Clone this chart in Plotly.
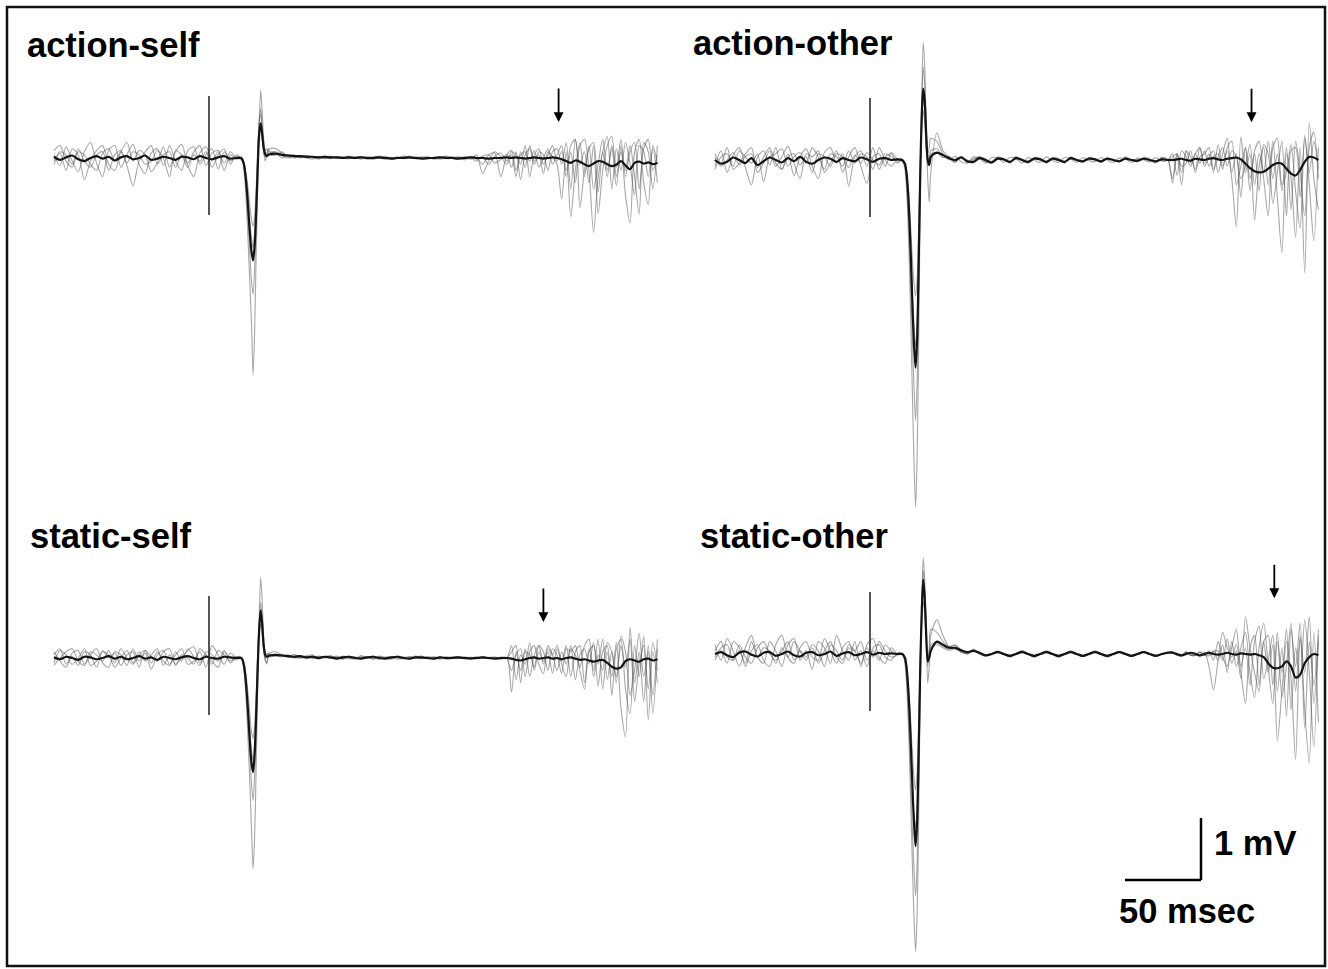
import plotly.graph_objects as go

W, H = 1328, 969

# ---------------- data (time in ms relative to stimulus, amplitude in mV) ----------------
TIME_MS = [
    -102, -98, -94, -90, -86, -82, -78, -74, -70, -66,
    -62, -58, -54, -50, -46, -42, -38, -34, -30, -26,
    -22, -18, -14, -10, -6, -2, 2, 6, 10, 14,
    18,
    21, 22, 23, 24, 25, 26, 27, 28, 29, 30,
    31, 32, 33, 34, 35, 36, 37, 38, 39, 40,
    44, 48, 52, 56, 60, 64, 68, 72, 76, 80,
    84, 88, 92, 96, 100, 104, 108, 112, 116, 120,
    124, 128, 132, 136, 140, 144, 148, 152, 156, 160,
    164, 168, 172, 176, 180, 184, 188, 192, 196,
    199, 202, 205, 208, 211, 214, 217, 220, 223, 226,
    229, 232, 235, 238, 241, 244, 247, 250, 253, 256,
    259, 262, 265, 268, 271, 274, 277, 280, 283, 286,
    289, 292, 295,
]

PANEL_TITLES = ["action-self", "action-other", "static-self", "static-other"]

# ---- action-self ----
ACTION_SELF_MEAN = [
    0.02, -0.03, 0.01, 0.04, -0.02, -0.05, 0.0, 0.03, -0.01, 0.02,
    -0.04, 0.01, 0.03, -0.02, 0.0, 0.04, -0.03, -0.01, 0.02, 0.0,
    -0.03, 0.02, 0.01, -0.02, 0.03, 0.0, -0.02, 0.01, 0.03, -0.01,
    0.0,
    0.0, -0.03, -0.1, -0.28, -0.55, -0.9, -1.25, -1.52, -1.65, -1.42,
    -0.9, -0.2, 0.38, 0.56, 0.38, 0.16, 0.06, 0.03, 0.05, 0.06,
    0.07, 0.05, 0.04, 0.03, 0.03, 0.02, 0.02, 0.01, 0.02, 0.01,
    0.01, 0.0, 0.01, 0.0, 0.01, 0.0, 0.0, 0.01, 0.0, -0.01,
    0.0, 0.0, 0.01, 0.0, -0.01, 0.0, 0.0, 0.01, 0.0, 0.0,
    -0.01, 0.0, 0.01, 0.0, 0.0, -0.01, 0.0, 0.0, 0.01,
    0.0, 0.01, 0.0, -0.01, 0.0, 0.01, 0.0, -0.01, 0.0, 0.01,
    0.0, -0.02, -0.05, -0.08, -0.04, -0.06, -0.1, -0.13, -0.09, -0.05,
    -0.06, -0.1, -0.13, -0.11, -0.05, -0.12, -0.18, -0.08, -0.06, -0.09,
    -0.07, -0.1, -0.08,
]
ACTION_SELF_TRIAL_1 = [
    0.05, -0.12, 0.18, -0.05, -0.22, 0.1, 0.25, -0.08, -0.3, 0.12,
    0.2, -0.15, 0.05, 0.22, -0.1, -0.25, 0.08, 0.15, -0.12, 0.2,
    -0.05, -0.2, 0.12, 0.18, -0.1, 0.05, 0.15, -0.18, 0.1, -0.05,
    0.02,
    0.0, -0.05, -0.2, -0.5, -0.95, -1.5, -2.1, -2.7, -3.5, -2.8,
    -1.6, -0.5, 0.5, 1.1, 0.75, 0.3, 0.1, 0.05, 0.12, 0.15,
    0.15, 0.08, 0.03, 0.05, 0.0, 0.04, 0.02, -0.02, 0.03, 0.0,
    0.02, -0.01, 0.03, 0.0, 0.02, -0.02, 0.01, 0.03, 0.0, -0.02,
    0.02, 0.0, 0.03, -0.01, 0.01, 0.02, -0.02, 0.0, 0.03, 0.01,
    -0.02, 0.02, 0.0, -0.05, 0.03, 0.05, -0.08, -0.02, 0.06,
    -0.15, 0.1, -0.35, 0.05, 0.15, -0.1, 0.05, -0.25, 0.1, 0.02,
    -0.1, -0.66, 0.1, -0.95, -0.2, 0.25, -0.3, 0.2, -0.5, -0.1,
    0.3, -0.2, 0.15, -0.45, 0.2, -0.6, -1.05, 0.1, 0.3, -0.4,
    -0.75, 0.2, -0.1,
]
ACTION_SELF_TRIAL_2 = [
    -0.1, 0.08, -0.2, 0.15, 0.05, -0.35, -0.05, 0.12, 0.2, -0.1,
    -0.2, 0.1, 0.25, -0.05, 0.12, 0.05, -0.22, -0.08, 0.18, -0.15,
    0.1, 0.22, -0.12, -0.3, 0.08, 0.18, -0.05, 0.1, -0.2, 0.05,
    -0.02,
    0.02, 0.0, -0.12, -0.35, -0.7, -1.1, -1.6, -2.0, -2.2, -1.8,
    -1.0, -0.15, 0.55, 0.8, 0.5, 0.2, 0.12, 0.15, 0.1, 0.05,
    0.05, 0.1, 0.02, 0.0, 0.04, 0.01, -0.02, 0.02, 0.0, 0.03,
    -0.01, 0.02, 0.0, 0.01, -0.02, 0.02, 0.01, 0.0, 0.02, -0.01,
    0.0, 0.03, 0.0, -0.01, 0.02, 0.0, 0.01, -0.02, 0.0, 0.02,
    0.0, -0.03, 0.02, 0.0, -0.1, 0.05, 0.08, -0.3, 0.05,
    0.12, -0.2, 0.05, 0.1, -0.05, 0.12, -0.15, 0.0, 0.15, -0.1,
    0.05, 0.2, -0.3, 0.1, -0.4, 0.2, 0.3, -0.2, -1.2, -0.3,
    0.1, 0.35, -0.5, 0.15, -0.2, 0.25, -0.1, -0.6, 0.2, 0.1,
    -0.3, 0.15, -0.4,
]
ACTION_SELF_TRIAL_3 = [
    0.12, 0.2, -0.05, -0.15, 0.1, 0.05, -0.1, -0.2, 0.08, 0.15,
    -0.05, 0.1, -0.12, -0.45, -0.05, 0.1, 0.2, -0.1, 0.05, 0.1,
    -0.15, 0.05, -0.08, 0.1, 0.2, -0.12, 0.08, 0.12, -0.08, 0.1,
    0.0,
    -0.02, -0.05, -0.1, -0.25, -0.45, -0.75, -1.05, -1.3, -1.45, -1.2,
    -0.7, 0.0, 0.6, 0.7, 0.4, 0.1, -0.05, 0.05, 0.15, 0.1,
    0.08, 0.0, 0.05, 0.02, 0.01, 0.03, 0.0, 0.02, -0.01, 0.01,
    0.02, 0.0, -0.01, 0.02, 0.01, 0.0, -0.02, 0.01, 0.02, 0.0,
    0.01, -0.01, 0.0, 0.02, 0.0, -0.02, 0.01, 0.0, 0.02, 0.0,
    0.01, 0.0, -0.02, 0.05, -0.25, -0.05, 0.1, 0.02, -0.1,
    0.05, -0.3, 0.1, -0.15, 0.2, -0.05, 0.1, 0.05, -0.2, 0.1,
    0.15, -0.1, 0.25, -0.5, 0.3, -0.1, 0.1, -0.4, 0.2, -0.9,
    -0.2, 0.2, 0.35, -0.3, 0.1, -0.2, 0.2, -0.3, -0.9, 0.25,
    0.1, -0.5, 0.2,
]
ACTION_SELF_TRIAL_4 = [
    -0.05, 0.1, 0.05, -0.1, 0.15, -0.05, -0.15, 0.05, 0.1, -0.2,
    0.05, 0.12, -0.08, 0.1, 0.05, -0.1, -0.05, 0.12, 0.0, -0.3,
    0.12, 0.05, -0.15, 0.05, -0.05, 0.1, -0.15, 0.05, 0.15, -0.1,
    0.05,
    0.0, -0.02, -0.08, -0.2, -0.35, -0.55, -0.8, -1.0, -1.1, -0.95,
    -0.5, 0.1, 0.45, 0.5, 0.3, 0.08, 0.02, 0.05, 0.05, 0.08,
    0.1, 0.04, 0.0, 0.03, 0.02, 0.0, 0.02, 0.01, 0.0, -0.01,
    0.02, 0.01, 0.0, -0.01, 0.02, 0.0, 0.01, 0.0, -0.02, 0.01,
    0.0, 0.02, 0.01, 0.0, -0.01, 0.01, 0.0, 0.02, -0.01, 0.0,
    0.02, 0.0, 0.01, -0.02, 0.02, -0.1, 0.03, 0.08, -0.05,
    0.1, 0.05, -0.1, 0.2, -0.3, 0.05, 0.15, -0.1, 0.05, 0.2,
    -0.05, 0.1, -0.2, 0.2, 0.3, -0.8, -0.2, 0.15, 0.25, -0.55,
    0.1, -0.3, 0.2, -0.15, 0.3, -0.3, 0.1, 0.25, -0.5, 0.15,
    0.3, -0.2, 0.05,
]

# ---- action-other ----
ACTION_OTHER_MEAN = [
    0.0, -0.06, -0.03, 0.04, 0.0, -0.05, 0.03, -0.08, -0.02, 0.04,
    0.0, -0.04, 0.03, -0.02, 0.05, -0.03, -0.06, 0.0, 0.04, 0.02,
    -0.03, 0.03, 0.0, -0.02, 0.04, 0.01, -0.03, 0.02, 0.03, 0.0,
    0.01,
    0.0, -0.02, -0.06, -0.2, -0.5, -1.0, -1.65, -2.4, -3.0, -3.35,
    -2.9, -1.7, -0.3, 0.7, 1.15, 0.95, 0.4, 0.0, -0.08, 0.05,
    0.12, 0.08, 0.03, 0.0, 0.04, -0.02, -0.03, 0.03, 0.0, -0.04,
    0.02, 0.01, -0.03, 0.03, 0.0, -0.03, 0.02, 0.01, -0.03, 0.02,
    0.0, -0.03, 0.03, 0.0, -0.02, 0.02, 0.01, -0.02, 0.02, 0.0,
    -0.02, 0.02, 0.0, -0.01, 0.02, 0.0, -0.02, 0.01, 0.0,
    0.0, 0.01, 0.02, 0.0, -0.01, 0.02, 0.01, 0.0, 0.02, 0.03,
    0.01, 0.0, 0.02, 0.03, 0.04, 0.01, -0.06, -0.13, -0.18, -0.2,
    -0.19, -0.14, -0.08, -0.05, -0.06, -0.14, -0.22, -0.25, -0.16, -0.03,
    0.05, 0.04, 0.0,
]
ACTION_OTHER_TRIAL_1 = [
    -0.1, 0.15, -0.2, 0.08, 0.2, -0.12, -0.4, 0.05, 0.15, -0.08,
    0.2, -0.15, 0.1, -0.25, 0.05, 0.18, -0.1, -0.3, 0.12, 0.2,
    -0.05, 0.1, -0.42, 0.05, 0.15, -0.1, 0.2, -0.15, 0.05, 0.1,
    -0.05,
    0.0, -0.05, -0.15, -0.45, -1.0, -1.8, -2.8, -3.9, -4.9, -5.6,
    -4.8, -3.0, -0.8, 0.9, 1.9, 1.5, 0.5, -0.3, -0.68, -0.2,
    0.44, 0.15, 0.05, -0.03, 0.06, -0.04, 0.0, 0.06, -0.02, -0.05,
    0.05, 0.02, -0.05, 0.06, -0.01, -0.05, 0.04, 0.03, -0.05, 0.04,
    0.02, -0.05, 0.05, 0.0, -0.04, 0.04, 0.02, -0.04, 0.04, -0.01,
    -0.03, 0.05, 0.0, -0.03, 0.04, 0.02, -0.05, 0.04, 0.0,
    -0.37, 0.1, -0.2, 0.15, 0.05, -0.15, 0.2, -0.05, 0.1, -0.2,
    0.25, -0.1, 0.15, -0.3, -1.08, 0.37, -0.2, 0.1, -0.97, -0.1,
    0.2, -0.4, 0.3, -0.6, -1.5, 0.1, -0.3, -1.24, 0.2, -1.82,
    0.6, -0.3, -0.8,
]
ACTION_OTHER_TRIAL_2 = [
    0.1, -0.05, 0.2, -0.15, -0.05, 0.1, 0.2, -0.2, -0.05, 0.15,
    -0.1, 0.05, 0.22, -0.05, -0.3, 0.1, 0.05, 0.15, -0.2, -0.05,
    0.15, -0.2, 0.05, 0.2, -0.1, -0.38, 0.05, 0.1, -0.1, 0.12,
    0.02,
    0.02, -0.02, -0.1, -0.35, -0.8, -1.4, -2.2, -3.0, -3.7, -4.2,
    -3.6, -2.2, -0.5, 0.8, 1.5, 1.2, 0.5, 0.1, 0.2, 0.35,
    0.3, 0.1, 0.0, 0.06, -0.03, -0.05, 0.05, 0.02, -0.05, 0.04,
    0.03, -0.04, 0.04, 0.02, -0.05, 0.04, 0.0, -0.04, 0.05, -0.01,
    -0.04, 0.04, 0.02, -0.04, 0.04, -0.01, -0.03, 0.04, 0.0, -0.04,
    0.03, 0.02, -0.04, 0.03, 0.0, -0.03, 0.04, -0.02, 0.0,
    0.1, -0.25, 0.15, 0.05, -0.1, 0.1, -0.05, 0.15, -0.1, 0.05,
    0.1, -0.15, 0.2, 0.3, -0.4, -0.1, 0.2, -0.5, 0.15, 0.3,
    -0.3, -0.9, 0.2, 0.35, -0.4, -0.2, 0.25, -0.5, -1.1, 0.4,
    -0.2, 0.3, -0.15,
]
ACTION_OTHER_TRIAL_3 = [
    -0.15, 0.05, 0.1, -0.1, 0.15, 0.05, -0.05, 0.1, -0.35, 0.05,
    0.1, 0.18, -0.1, 0.05, 0.12, -0.05, 0.2, 0.05, -0.15, 0.1,
    0.05, -0.1, 0.15, -0.05, 0.1, 0.05, -0.15, 0.2, 0.0, -0.1,
    0.0,
    -0.02, -0.05, -0.1, -0.25, -0.55, -1.0, -1.6, -2.2, -2.7, -3.0,
    -2.6, -1.5, -0.2, 0.6, 1.0, 0.8, 0.2, -0.1, 0.0, 0.15,
    0.18, 0.05, 0.02, -0.04, 0.05, 0.0, -0.04, 0.04, 0.02, -0.05,
    0.03, 0.02, -0.04, 0.04, 0.0, -0.04, 0.04, 0.02, -0.04, 0.03,
    0.0, -0.04, 0.04, 0.0, -0.03, 0.03, 0.02, -0.04, 0.03, 0.0,
    -0.03, 0.04, 0.0, -0.02, 0.03, 0.0, -0.04, 0.04, 0.0,
    -0.3, 0.1, -0.4, 0.15, -0.05, 0.1, 0.2, -0.1, 0.05, 0.15,
    -0.2, 0.1, 0.35, -0.2, 0.1, -0.6, 0.2, -0.3, 0.1, -0.5,
    0.25, 0.1, -0.7, -0.2, 0.3, -0.9, 0.15, 0.2, -0.6, 0.35,
    -0.4, -1.3, 0.2,
]
ACTION_OTHER_TRIAL_4 = [
    0.05, -0.1, 0.0, 0.12, -0.08, 0.05, 0.1, -0.12, 0.05, 0.2,
    -0.05, -0.15, 0.05, 0.1, -0.08, 0.05, -0.2, 0.1, 0.05, -0.1,
    0.1, 0.05, -0.12, 0.08, -0.05, 0.12, 0.0, -0.08, 0.1, 0.05,
    -0.02,
    0.0, -0.03, -0.08, -0.2, -0.4, -0.75, -1.2, -1.65, -2.0, -2.2,
    -1.9, -1.1, -0.1, 0.5, 0.8, 0.6, 0.15, 0.0, 0.05, 0.1,
    0.12, 0.04, 0.06, -0.02, 0.04, -0.04, 0.02, 0.04, -0.03, -0.02,
    0.04, 0.0, -0.04, 0.03, 0.02, -0.03, 0.03, 0.0, -0.04, 0.03,
    0.02, -0.03, 0.02, 0.01, -0.03, 0.03, 0.0, -0.03, 0.02, 0.01,
    -0.02, 0.03, 0.0, -0.02, 0.02, 0.0, -0.02, 0.02, 0.0,
    0.05, 0.1, -0.1, -0.05, 0.15, -0.2, 0.05, 0.1, 0.2, -0.15,
    0.05, 0.2, -0.1, 0.15, 0.05, -0.3, -0.1, 0.25, -0.4, 0.1,
    -0.2, 0.3, -0.3, 0.1, -0.5, 0.2, -0.8, 0.3, -0.2, -0.9,
    0.2, 0.45, -0.3,
]

# ---- static-self ----
STATIC_SELF_MEAN = [
    0.01, -0.02, 0.02, 0.0, -0.03, 0.02, 0.01, -0.02, 0.0, 0.03,
    -0.01, 0.02, -0.02, 0.0, 0.03, -0.01, 0.01, -0.03, 0.02, 0.0,
    -0.02, 0.01, 0.03, 0.0, -0.02, 0.02, 0.0, -0.01, 0.02, 0.01,
    0.0,
    0.0, -0.03, -0.12, -0.32, -0.62, -1.0, -1.4, -1.7, -1.84, -1.55,
    -0.95, -0.2, 0.45, 0.77, 0.55, 0.2, 0.05, 0.02, 0.03, 0.04,
    0.05, 0.04, 0.03, 0.02, 0.03, 0.01, 0.02, 0.0, 0.02, 0.01,
    -0.01, 0.01, 0.02, 0.0, -0.01, 0.01, 0.02, 0.0, -0.01, 0.01,
    0.02, 0.0, -0.01, 0.01, 0.01, 0.0, -0.01, 0.01, 0.0, 0.0,
    0.01, 0.0, -0.01, 0.0, 0.01, 0.0, -0.01, 0.0, 0.0,
    -0.01, -0.03, -0.04, -0.02, 0.0, 0.01, -0.01, 0.0, 0.01, -0.01,
    0.0, -0.02, 0.0, 0.01, -0.01, -0.03, -0.02, -0.04, -0.06, -0.04,
    -0.03, -0.08, -0.14, -0.17, -0.15, -0.05, -0.02, -0.04, -0.06, -0.02,
    -0.01, -0.04, -0.02,
]
STATIC_SELF_TRIAL_1 = [
    0.1, -0.05, -0.15, 0.08, 0.12, -0.1, 0.05, 0.15, -0.08, -0.15,
    0.1, 0.05, -0.12, 0.15, -0.05, 0.08, -0.18, 0.05, 0.12, -0.1,
    0.05, 0.15, -0.1, -0.05, 0.1, -0.15, 0.2, 0.05, -0.1, 0.08,
    0.0,
    0.0, -0.05, -0.2, -0.5, -0.95, -1.5, -2.1, -2.8, -3.4, -2.9,
    -1.8, -0.5, 0.6, 1.3, 0.9, 0.3, 0.0, -0.1, 0.05, 0.08,
    0.1, 0.05, 0.02, 0.06, 0.0, 0.03, 0.05, -0.02, 0.02, 0.04,
    -0.02, 0.03, 0.01, -0.02, 0.04, 0.0, -0.01, 0.03, 0.0, -0.02,
    0.03, 0.01, -0.02, 0.02, 0.03, -0.01, 0.0, 0.02, -0.02, 0.01,
    0.02, -0.01, 0.0, 0.02, -0.01, 0.01, 0.0, -0.02, 0.01,
    -0.55, 0.1, -0.2, 0.15, -0.3, 0.05, 0.2, -0.1, 0.1, -0.25,
    0.15, -0.05, 0.2, -0.3, 0.1, 0.2, -0.4, 0.15, -0.2, 0.3,
    -0.5, 0.1, -0.3, 0.25, -0.8, -1.27, 0.5, -0.4, 0.1, -0.7,
    0.2, -0.9, 0.15,
]
STATIC_SELF_TRIAL_2 = [
    -0.08, 0.12, 0.05, -0.1, 0.0, 0.15, -0.12, -0.05, 0.1, 0.05,
    -0.15, 0.0, 0.12, -0.08, 0.1, -0.05, 0.05, 0.15, -0.12, 0.05,
    -0.1, 0.0, 0.12, 0.18, -0.08, 0.05, -0.1, 0.12, 0.05, -0.05,
    0.02,
    0.02, 0.0, -0.1, -0.3, -0.65, -1.1, -1.6, -2.05, -2.3, -1.9,
    -1.1, -0.1, 0.55, 0.9, 0.6, 0.25, 0.1, 0.05, 0.08, 0.05,
    0.06, 0.04, 0.05, 0.0, 0.02, 0.03, -0.01, 0.03, 0.01, 0.0,
    0.03, -0.02, 0.02, 0.02, -0.01, 0.0, 0.03, -0.01, 0.01, 0.02,
    -0.02, 0.01, 0.02, 0.0, -0.01, 0.02, 0.01, -0.02, 0.02, 0.0,
    -0.01, 0.02, 0.0, -0.01, 0.01, 0.0, 0.02, -0.01, 0.0,
    0.2, -0.35, 0.05, -0.1, 0.25, -0.2, 0.1, -0.05, 0.2, 0.05,
    -0.2, 0.1, -0.1, 0.2, -0.35, 0.05, 0.15, -0.1, 0.25, -0.45,
    0.1, 0.2, -0.6, 0.15, 0.3, -0.5, -0.9, 0.2, -0.3, 0.35,
    -1.0, 0.1, -0.4,
]
STATIC_SELF_TRIAL_3 = [
    0.05, 0.15, -0.1, 0.02, -0.12, 0.1, 0.05, -0.15, 0.12, 0.0,
    0.08, -0.12, 0.05, 0.1, -0.15, 0.12, 0.02, -0.05, 0.1, 0.15,
    -0.12, 0.05, 0.0, -0.1, 0.15, 0.05, -0.05, -0.15, 0.1, 0.0,
    -0.03,
    0.0, -0.03, -0.1, -0.25, -0.5, -0.85, -1.2, -1.5, -1.65, -1.4,
    -0.8, 0.0, 0.55, 0.7, 0.45, 0.15, -0.05, -0.08, 0.02, 0.06,
    0.04, 0.06, 0.01, 0.03, 0.02, -0.01, 0.03, 0.02, 0.0, 0.02,
    0.01, -0.01, 0.03, 0.0, 0.01, 0.02, -0.02, 0.02, 0.01, 0.0,
    0.02, -0.01, 0.0, 0.03, 0.0, -0.01, 0.02, 0.0, 0.01, -0.01,
    0.02, 0.0, 0.01, -0.01, 0.02, 0.0, -0.01, 0.01, 0.0,
    0.1, 0.2, -0.4, 0.1, 0.05, -0.15, 0.2, 0.1, -0.2, 0.15,
    0.05, -0.25, 0.15, 0.1, 0.2, -0.2, -0.5, 0.1, 0.2, -0.1,
    0.3, -0.35, 0.1, -0.4, 0.35, 0.1, -0.6, -0.2, 0.4, -0.3,
    0.1, -0.6, 0.3,
]
STATIC_SELF_TRIAL_4 = [
    -0.12, 0.0, 0.1, 0.15, -0.05, -0.12, 0.1, 0.05, -0.05, 0.12,
    -0.08, 0.15, 0.0, -0.1, 0.05, 0.12, -0.08, 0.1, -0.05, -0.12,
    0.1, -0.05, 0.15, 0.02, -0.12, 0.1, 0.05, -0.05, 0.12, -0.08,
    0.02,
    0.0, -0.02, -0.08, -0.2, -0.4, -0.65, -0.95, -1.2, -1.3, -1.1,
    -0.6, 0.05, 0.4, 0.55, 0.35, 0.1, 0.0, 0.05, 0.06, 0.02,
    0.03, 0.02, 0.04, 0.01, 0.0, 0.02, 0.01, -0.01, 0.02, 0.0,
    0.01, 0.02, -0.01, 0.0, 0.02, 0.01, 0.0, -0.02, 0.01, 0.02,
    0.0, -0.01, 0.02, 0.01, 0.0, 0.01, -0.02, 0.01, 0.0, 0.02,
    0.0, -0.01, 0.01, 0.0, 0.02, -0.01, 0.0, 0.01, -0.01,
    -0.2, 0.05, 0.15, -0.3, 0.1, 0.2, -0.1, -0.25, 0.15, 0.05,
    0.2, -0.1, -0.3, 0.15, 0.05, -0.15, 0.2, 0.3, -0.3, 0.05,
    -0.2, 0.25, 0.1, -0.3, 0.2, -0.15, 0.3, -0.7, -0.1, 0.2,
    -0.5, 0.25, -0.2,
]

# ---- static-other ----
STATIC_OTHER_MEAN = [
    0.0, 0.03, -0.02, -0.05, 0.02, 0.04, -0.01, -0.04, 0.02, 0.03,
    -0.03, 0.0, 0.04, -0.02, -0.04, 0.02, 0.03, -0.02, 0.0, 0.04,
    -0.03, 0.01, 0.03, -0.02, 0.0, 0.03, -0.01, 0.02, 0.0, 0.01,
    0.0,
    0.0, -0.02, -0.06, -0.2, -0.5, -0.95, -1.55, -2.2, -2.75, -3.1,
    -2.7, -1.6, -0.3, 0.65, 1.2, 0.9, 0.3, -0.12, -0.06, 0.05,
    0.2, 0.15, 0.1, 0.1, 0.06, 0.03, 0.05, 0.02, -0.02, 0.0,
    0.03, 0.0, -0.03, 0.0, 0.03, 0.0, -0.03, 0.0, 0.03, 0.0,
    -0.03, 0.0, 0.03, 0.0, -0.03, 0.0, 0.03, 0.0, -0.03, 0.0,
    0.03, 0.0, -0.03, 0.0, 0.03, 0.0, -0.03, 0.0, 0.02,
    0.02, 0.0, -0.02, 0.0, 0.02, 0.0, -0.02, 0.0, 0.02, 0.0,
    -0.01, 0.0, 0.02, 0.0, -0.01, 0.01, 0.0, -0.01, 0.0, -0.02,
    -0.05, -0.15, -0.22, -0.23, -0.2, -0.12, -0.2, -0.38, -0.33, -0.15,
    -0.05, 0.0, -0.02,
]
STATIC_OTHER_TRIAL_1 = [
    0.15, -0.1, 0.25, 0.05, -0.2, 0.1, 0.3, -0.05, -0.15, 0.2,
    0.05, -0.2, 0.15, 0.25, -0.1, 0.05, -0.25, 0.2, 0.1, -0.15,
    0.3, 0.05, -0.1, 0.2, -0.2, 0.15, 0.25, -0.05, -0.15, 0.1,
    0.0,
    0.0, -0.05, -0.15, -0.45, -1.0, -1.7, -2.6, -3.5, -4.3, -4.8,
    -4.2, -2.7, -0.7, 0.8, 1.55, 1.2, 0.3, -0.47, -0.2, 0.3,
    0.55, 0.3, 0.12, 0.15, 0.06, 0.0, 0.08, 0.02, -0.04, 0.0,
    0.05, 0.0, -0.05, 0.01, 0.05, 0.0, -0.05, 0.0, 0.05, 0.01,
    -0.05, 0.0, 0.05, 0.0, -0.04, 0.0, 0.05, 0.01, -0.05, 0.0,
    0.04, 0.0, -0.04, 0.0, 0.04, 0.0, -0.04, 0.0, 0.03,
    0.04, 0.0, -0.04, 0.03, -0.02, 0.02, -0.05, 0.03, -0.2, -0.58,
    -0.1, 0.35, 0.1, -0.05, 0.15, -0.3, -0.8, 0.1, 0.3, -0.5,
    0.2, -0.3, 0.15, -1.4, -0.6, 0.2, -0.4, -1.7, 0.3, -0.9,
    -1.76, 0.35, -1.1,
]
STATIC_OTHER_TRIAL_2 = [
    -0.1, 0.05, -0.15, 0.2, 0.1, -0.2, 0.05, 0.15, -0.1, -0.2,
    0.15, 0.3, -0.05, -0.15, 0.1, 0.2, -0.05, -0.1, 0.25, 0.05,
    -0.15, 0.1, 0.2, -0.1, 0.05, -0.2, 0.1, 0.15, -0.05, -0.1,
    0.02,
    0.02, 0.0, -0.1, -0.35, -0.8, -1.4, -2.1, -2.9, -3.5, -3.9,
    -3.4, -2.1, -0.4, 0.7, 1.35, 1.05, 0.35, -0.2, 0.1, 0.4,
    0.35, 0.2, 0.12, 0.14, 0.04, 0.02, 0.07, 0.0, -0.03, 0.01,
    0.04, 0.01, -0.04, 0.0, 0.05, 0.01, -0.04, 0.0, 0.04, 0.0,
    -0.05, 0.01, 0.04, 0.0, -0.04, 0.01, 0.04, 0.0, -0.04, 0.0,
    0.04, 0.01, -0.03, 0.0, 0.03, 0.0, -0.03, 0.0, 0.03,
    0.03, -0.02, -0.03, 0.03, -0.02, -0.02, 0.03, -0.02, 0.05, -0.1,
    0.2, -0.05, -0.2, 0.1, 0.4, -0.2, 0.1, -0.5, 0.2, 0.45,
    -0.4, -0.1, 0.3, -0.6, 0.1, -1.0, 0.4, -0.2, 0.5, -1.2,
    0.2, -0.5, 0.3,
]
STATIC_OTHER_TRIAL_3 = [
    0.05, 0.2, -0.05, -0.1, 0.15, -0.05, -0.15, 0.1, 0.2, 0.0,
    -0.1, 0.05, 0.2, -0.1, 0.05, -0.05, 0.15, 0.05, -0.2, 0.15,
    0.05, -0.1, 0.15, 0.05, -0.15, 0.1, -0.05, 0.2, 0.05, -0.05,
    -0.02,
    0.0, -0.03, -0.1, -0.25, -0.55, -1.0, -1.6, -2.2, -2.6, -2.8,
    -2.4, -1.4, -0.2, 0.6, 1.1, 0.85, 0.25, -0.1, 0.0, 0.15,
    0.18, 0.12, 0.08, 0.1, 0.03, 0.01, 0.06, 0.01, -0.03, 0.0,
    0.04, -0.01, -0.04, 0.0, 0.04, -0.01, -0.05, 0.0, 0.04, 0.0,
    -0.04, -0.01, 0.04, 0.0, -0.04, 0.0, 0.04, -0.01, -0.04, 0.0,
    0.03, 0.0, -0.04, 0.0, 0.03, 0.0, -0.03, 0.0, 0.02,
    0.03, -0.02, -0.02, 0.03, -0.02, -0.02, 0.03, -0.02, -0.01, 0.05,
    -0.1, 0.15, -0.3, 0.2, -0.2, 0.1, 0.35, -0.3, -0.7, 0.1,
    0.5, -0.2, -0.8, 0.2, -0.3, 0.4, -0.9, 0.1, -0.4, 0.55,
    -0.3, -1.5, 0.4,
]
STATIC_OTHER_TRIAL_4 = [
    -0.05, 0.1, 0.15, -0.1, 0.05, -0.15, 0.2, -0.05, 0.1, 0.05,
    -0.15, 0.1, -0.05, 0.2, 0.05, -0.1, 0.1, -0.15, 0.05, 0.2,
    -0.05, -0.15, 0.1, 0.05, 0.2, -0.1, 0.05, -0.1, 0.15, 0.05,
    0.0,
    0.0, -0.02, -0.08, -0.2, -0.42, -0.75, -1.2, -1.65, -2.0, -2.2,
    -1.9, -1.1, -0.05, 0.5, 0.85, 0.65, 0.2, -0.05, 0.05, 0.12,
    0.15, 0.1, 0.06, 0.08, 0.03, 0.0, 0.05, 0.0, -0.02, 0.0,
    0.03, 0.0, -0.03, 0.0, 0.04, 0.0, -0.03, 0.0, 0.03, 0.0,
    -0.04, 0.0, 0.03, 0.0, -0.03, 0.0, 0.03, 0.0, -0.03, 0.0,
    0.03, 0.0, -0.03, 0.0, 0.03, 0.0, -0.02, 0.0, 0.02,
    0.02, -0.02, -0.03, 0.03, -0.02, -0.02, 0.03, -0.02, -0.03, 0.04,
    0.05, -0.1, 0.25, -0.15, 0.05, -0.4, 0.6, 0.1, -0.3, -0.6,
    0.2, 0.3, -0.5, 0.35, -0.7, -0.2, 0.5, -0.6, 0.25, -0.3,
    0.6, -0.8, 0.2,
]

PANEL_MEANS = [ACTION_SELF_MEAN, ACTION_OTHER_MEAN, STATIC_SELF_MEAN, STATIC_OTHER_MEAN]
PANEL_TRIALS = [
    [ACTION_SELF_TRIAL_1, ACTION_SELF_TRIAL_2, ACTION_SELF_TRIAL_3, ACTION_SELF_TRIAL_4],
    [ACTION_OTHER_TRIAL_1, ACTION_OTHER_TRIAL_2, ACTION_OTHER_TRIAL_3, ACTION_OTHER_TRIAL_4],
    [STATIC_SELF_TRIAL_1, STATIC_SELF_TRIAL_2, STATIC_SELF_TRIAL_3, STATIC_SELF_TRIAL_4],
    [STATIC_OTHER_TRIAL_1, STATIC_OTHER_TRIAL_2, STATIC_OTHER_TRIAL_3, STATIC_OTHER_TRIAL_4],
]

# markers: arrow (late-response onset) in ms / mV, stimulus line extent, scale bar
ARROW_MS = [230, 251, 220, 266]
ARROW_MV = [0.58, 0.61, 0.58, 0.90]
STIM_LINE_MV = (-0.92, 1.0)
SCALE_MS = 50
SCALE_MV = 1

# ---------------- layout geometry (pixels) ----------------
PX_PER_MS = 1.52
PX_PER_MV = 62.0
GEOM = [  # stimulus x, baseline y, panel box (left, right, top, bottom)
    dict(stim=209, base=158, left=40, right=662, top=12, bottom=492),
    dict(stim=870, base=160, left=700, right=1322, top=12, bottom=522),
    dict(stim=209, base=658, left=40, right=662, top=500, bottom=962),
    dict(stim=870, base=654, left=700, right=1322, top=524, bottom=964),
]
LABEL_POS = [(25, 45), (691, 43), (28, 536), (698, 536)]

bad = []
for name, arr in list(globals().items()):
    if (name.endswith("_MEAN") or "_TRIAL_" in name) and isinstance(arr, list):
        if len(arr) != len(TIME_MS):
            bad.append(f"{name}:{len(arr)}")
if bad:
    raise ValueError("length mismatch " + ", ".join(bad))

fig = go.Figure()
layout = dict(
    width=W, height=H, margin=dict(l=0, r=0, t=0, b=0),
    paper_bgcolor="white", plot_bgcolor="white", showlegend=False,
)
shapes = []
annotations = []
LABEL_FONT = dict(family="Liberation Sans, Arial, sans-serif", size=34.5, color="#000")

for i, title in enumerate(PANEL_TITLES):
    g = GEOM[i]
    k = "" if i == 0 else str(i + 1)
    xr, yr = "x" + k, "y" + k
    layout["xaxis" + k] = dict(
        domain=[g["left"] / W, g["right"] / W],
        range=[(g["left"] - g["stim"]) / PX_PER_MS, (g["right"] - g["stim"]) / PX_PER_MS],
        visible=False, fixedrange=True, anchor=yr,
    )
    layout["yaxis" + k] = dict(
        domain=[1 - g["bottom"] / H, 1 - g["top"] / H],
        range=[(g["base"] - g["bottom"]) / PX_PER_MV, (g["base"] - g["top"]) / PX_PER_MV],
        visible=False, fixedrange=True, anchor=xr,
    )
    for trial in PANEL_TRIALS[i]:
        fig.add_trace(go.Scatter(
            x=TIME_MS, y=trial, mode="lines", xaxis=xr, yaxis=yr,
            line=dict(color="rgba(95,95,95,0.55)", width=1.1, shape="spline", smoothing=0.8),
            hoverinfo="skip",
        ))
    fig.add_trace(go.Scatter(
        x=TIME_MS, y=PANEL_MEANS[i], mode="lines", xaxis=xr, yaxis=yr,
        line=dict(color="#141414", width=2.2, shape="spline", smoothing=0.8),
        hoverinfo="skip",
    ))
    shapes.append(dict(type="line", xref=xr, yref=yr, x0=0, x1=0,
                       y0=STIM_LINE_MV[0], y1=STIM_LINE_MV[1],
                       line=dict(color="#2b2b2b", width=1.6)))
    annotations.append(dict(xref=xr, yref=yr, x=ARROW_MS[i], y=ARROW_MV[i],
                            ax=0, ay=-35, text="", showarrow=True, arrowhead=2,
                            arrowsize=1.1, arrowwidth=1.8, arrowcolor="#000", standoff=0))
    lx, ly = LABEL_POS[i]
    annotations.append(dict(xref="paper", yref="paper", x=lx / W, y=1 - ly / H,
                            xanchor="left", yanchor="middle", showarrow=False,
                            text="<b>" + title + "</b>", font=LABEL_FONT))

# scale bar on the static-other axes
g = GEOM[3]
sx_end = (1201 - g["stim"]) / PX_PER_MS
sy = (g["base"] - 880) / PX_PER_MV
shapes.append(dict(type="line", xref="x4", yref="y4", x0=sx_end - SCALE_MS, x1=sx_end,
                   y0=sy, y1=sy, line=dict(color="#000", width=2.5)))
shapes.append(dict(type="line", xref="x4", yref="y4", x0=sx_end, x1=sx_end,
                   y0=sy, y1=sy + SCALE_MV, line=dict(color="#000", width=2.5)))
annotations.append(dict(xref="paper", yref="paper", x=1212 / W, y=1 - 843 / H,
                        xanchor="left", yanchor="middle", showarrow=False,
                        text=f"<b>{SCALE_MV} mV</b>", font=LABEL_FONT))
annotations.append(dict(xref="paper", yref="paper", x=1117 / W, y=1 - 911 / H,
                        xanchor="left", yanchor="middle", showarrow=False,
                        text=f"<b>{SCALE_MS} msec</b>", font=LABEL_FONT))

# figure frame
shapes.append(dict(type="rect", xref="paper", yref="paper", x0=7 / W, x1=1325 / W,
                   y0=1 - 966 / H, y1=1 - 7 / H, line=dict(color="#111", width=2.5)))

layout["shapes"] = shapes
layout["annotations"] = annotations
fig.update_layout(**layout)
fig.write_html(
    "out.html",
    config={"displayModeBar": False},
    post_script="document.body.style.margin='0px';document.body.style.overflow='hidden';",
)
